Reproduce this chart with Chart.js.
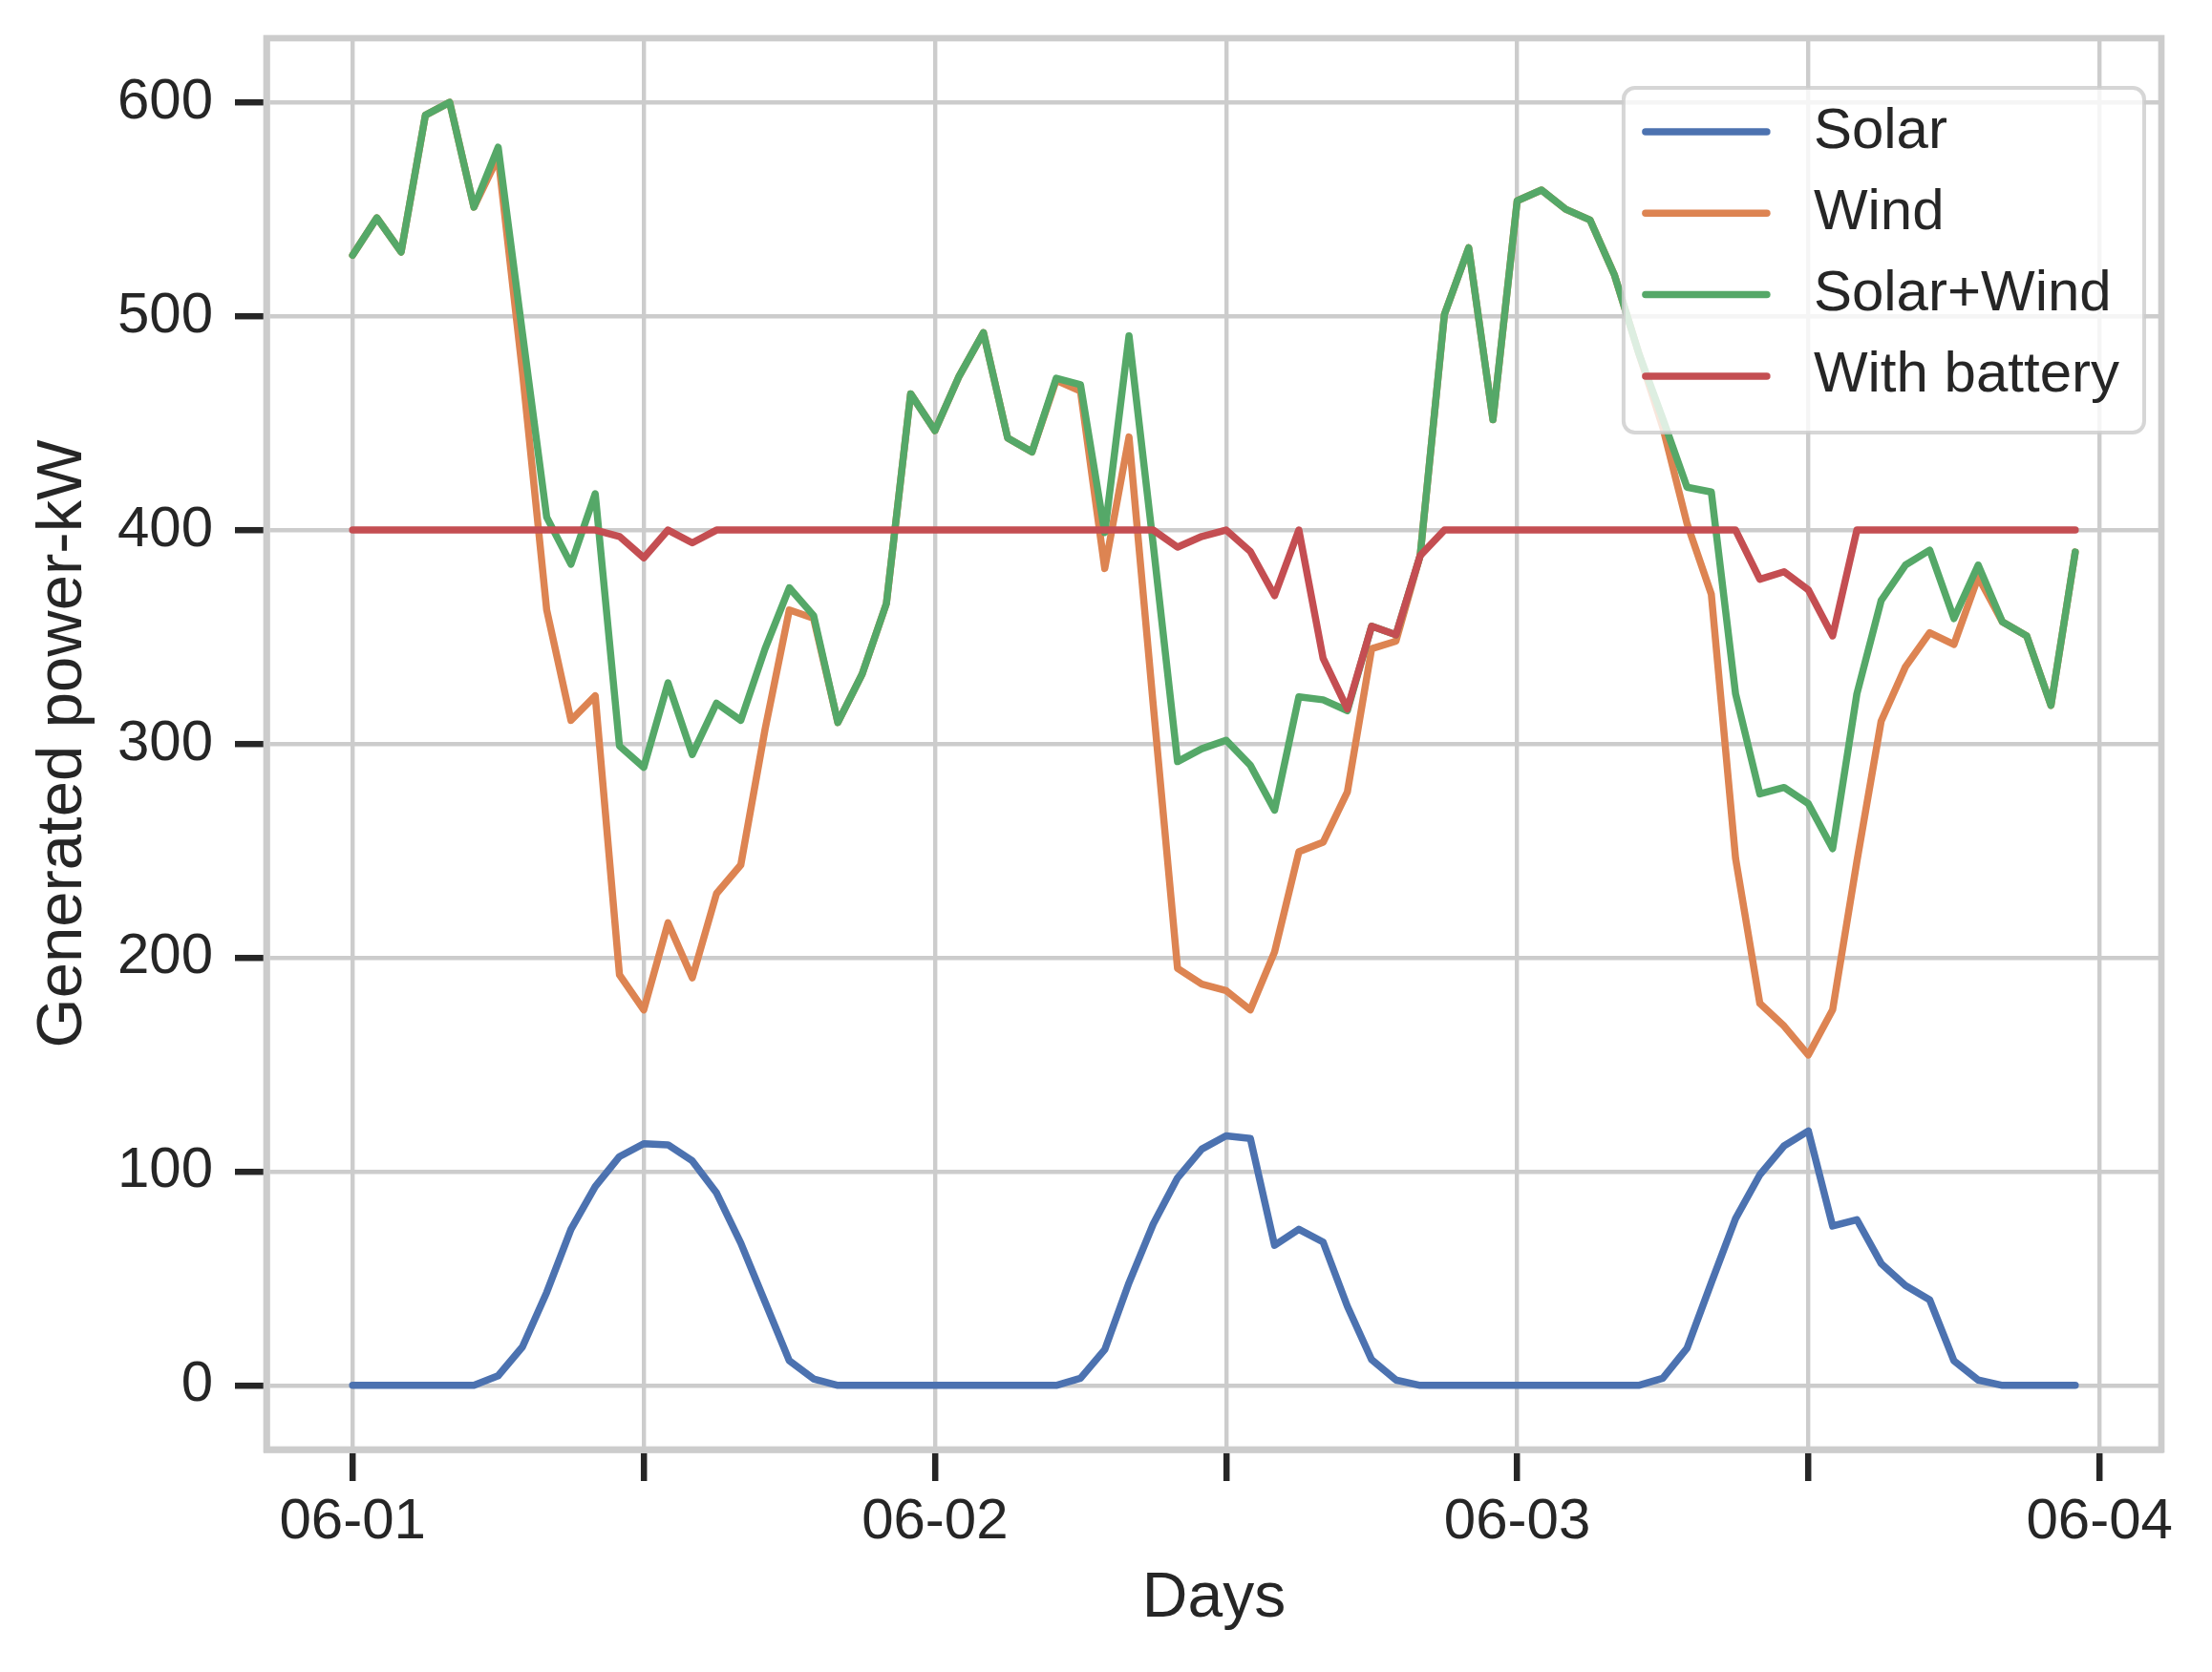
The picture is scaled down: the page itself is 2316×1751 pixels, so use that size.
<!DOCTYPE html>
<html>
<head>
<meta charset="utf-8">
<script src="https://cdn.jsdelivr.net/npm/chart.js@4.4.1/dist/chart.umd.min.js"></script>
<style>
  html, body { margin: 0; padding: 0; background: #fff; }
  canvas { display: block; }
</style>
</head>
<body>
<canvas id="chart" width="2316" height="1751"></canvas>
<script>
// hourly samples, 06-01 00:00 .. 06-03 23:00 (x = hours since 06-01)
const hours = Array.from({ length: 72 }, (_, i) => i);
const dayLabels = ["06-01", "06-02", "06-03", "06-04"];
const xTicks = [0, 12, 24, 36, 48, 60, 72];
const yTicks = [0, 100, 200, 300, 400, 500, 600];
const seriesNames = ["Solar", "Wind", "Solar+Wind", "With battery"];

const solar = [
  0, 0, 0, 0, 0, 0, 4.5, 18, 43.5, 73, 93, 107, 113, 112.5, 105, 90, 66.5, 39, 11.5, 3, 0, 0, 0, 0,
  0, 0, 0, 0, 0, 0, 3.3, 16.7, 48, 75.5, 97, 110.5, 116.7, 115.5, 65.5, 73, 67, 37, 12, 2.5, 0, 0, 0, 0,
  0, 0, 0, 0, 0, 0, 3.3, 17.4, 48, 78, 98.5, 112, 119, 74.5, 77.5, 57, 46.7, 40, 11.5, 2.5, 0, 0, 0, 0
];
const wind = [
  528.5, 546, 530, 594, 600, 551, 574.5, 474, 362.6, 311, 322.5, 192, 175.6, 216.3, 190.6, 230, 243.4, 306.8, 362.6, 358.7, 310, 332.6, 365.6, 463.7,
  446.5, 472, 492.3, 443, 436.5, 470, 465, 382, 443.5, 318, 195, 187.6, 184.6, 175.6, 202.7, 249.5, 254, 277.5, 344.5, 348, 388, 500.8, 532, 451.6,
  554, 559, 550, 545, 519.5, 483, 448, 403, 370, 246.5, 178.6, 168, 154.5, 175.6, 245, 310.6, 336, 352, 346.5, 378, 357, 350.5, 318, 389.7
];
const solarWind = [
  528.5, 546, 530, 594, 600, 551, 579, 492, 406, 384, 417, 299, 289, 328.5, 295, 319, 311, 344.5, 373, 360, 310, 332.6, 365.6, 463.7,
  446.5, 472, 492.3, 443, 436.5, 471, 468, 398.8, 490.8, 393, 291.7, 297.7, 301.7, 290, 269, 322, 320.6, 315.5, 355, 351, 388, 500.8, 532, 451.6,
  554, 559, 550, 545, 519.5, 483, 452, 420, 417.8, 323.4, 276.6, 279.6, 272, 251, 323.4, 367, 383.6, 390.6, 358.6, 383.6, 357, 350.5, 318, 389.7
];
const battery = [
  400, 400, 400, 400, 400, 400, 400, 400, 400, 400, 400, 397, 387, 400, 394, 400, 400, 400, 400, 400, 400, 400, 400, 400,
  400, 400, 400, 400, 400, 400, 400, 400, 400, 400, 392, 397, 400, 390, 369.3, 400, 340, 316.4, 355, 351, 388, 400, 400, 400,
  400, 400, 400, 400, 400, 400, 400, 400, 400, 400, 377, 380.5, 372, 350.5, 400, 400, 400, 400, 400, 400, 400, 400, 400, 400
];

const colors = ["#4C72B0", "#DD8452", "#55A868", "#C44E52"];
const textColor = "#262626";
const gridColor = "#cccccc";
const fontFamily = "'Liberation Sans', Arial, sans-serif";

const toPoints = vals => vals.map((v, i) => ({ x: hours[i], y: v }));

// top/right spines plus the framed legend inside the plot
const framePlugin = {
  id: "frame",
  afterDatasetsDraw(chart) {
    const { ctx, chartArea: a } = chart;
    ctx.save();
    ctx.strokeStyle = gridColor;
    ctx.lineWidth = 6.7;
    ctx.strokeRect(a.left, a.top, a.right - a.left, a.bottom - a.top);

    // legend
    ctx.font = "60px " + fontFamily;
    const sets = chart.data.datasets;
    const textW = Math.max(...sets.map(d => ctx.measureText(d.label).width));
    const padL = 23, sample = 127, gap = 49, padR = 26;
    const w = padL + sample + gap + textW + padR;
    const h = 361;
    const right = a.right - 18, top = a.top + 52;
    const left = right - w;
    ctx.beginPath();
    ctx.roundRect(left, top, w, h, 12);
    ctx.fillStyle = "rgba(255,255,255,0.8)";
    ctx.fill();
    ctx.strokeStyle = "rgba(204,204,204,0.8)";
    ctx.lineWidth = 4;
    ctx.stroke();
    ctx.lineCap = "round";
    ctx.textBaseline = "middle";
    ctx.textAlign = "left";
    sets.forEach((d, i) => {
      const y = top + 46 + i * 85.3;
      ctx.strokeStyle = d.borderColor;
      ctx.lineWidth = 7.5;
      ctx.beginPath();
      ctx.moveTo(left + padL, y);
      ctx.lineTo(left + padL + sample, y);
      ctx.stroke();
      ctx.fillStyle = textColor;
      ctx.fillText(d.label, left + padL + sample + gap, y);
    });
    ctx.restore();
  }
};

const seriesData = [solar, wind, solarWind, battery];

// keep the plot box fixed: no extra padding from tick labels
const noPad = s => { s.paddingTop = 0; s.paddingBottom = 0; s.paddingLeft = 0; s.paddingRight = 0; };

new Chart(document.getElementById("chart"), {
  type: "line",
  data: {
    datasets: seriesData.map((vals, i) => ({
      label: seriesNames[i],
      data: toPoints(vals),
      borderColor: colors[i],
      backgroundColor: colors[i],
      borderWidth: 7.5,
      pointRadius: 0,
      tension: 0,
      order: seriesData.length - i,
      borderJoinStyle: "round",
      borderCapStyle: "round"
    }))
  },
  options: {
    responsive: false,
    devicePixelRatio: 1,
    animation: false,
    layout: { padding: { left: 0, top: 40, right: 53, bottom: 0 } },
    plugins: { legend: { display: false }, tooltip: { enabled: false } },
    scales: {
      x: {
        type: "linear",
        min: -3.55,
        max: 74.55,
        afterBuildTicks: s => { s.ticks = xTicks.map(v => ({ value: v })); },
        afterFit: s => { s.height = 233; noPad(s); },
        grid: { color: gridColor, lineWidth: 4.4, drawTicks: true, tickLength: 33, tickColor: textColor, tickWidth: 6.5 },
        border: { display: true, color: gridColor, width: 6.7 },
        ticks: {
          autoSkip: false,
          maxRotation: 0,
          padding: 7,
          color: textColor,
          font: { family: fontFamily, size: 60 },
          callback: v => (v % 24 === 0 ? dayLabels[v / 24] : "")
        },
        title: { display: true, text: "Days", color: textColor, font: { family: fontFamily, size: 66 }, padding: { top: 0, bottom: 37 } }
      },
      y: {
        type: "linear",
        min: -30,
        max: 630,
        afterBuildTicks: s => { s.ticks = yTicks.map(v => ({ value: v })); },
        afterFit: s => { s.width = 279; noPad(s); },
        grid: { color: gridColor, lineWidth: 4.4, drawTicks: true, tickLength: 33, tickColor: textColor, tickWidth: 6.5 },
        border: { display: true, color: gridColor, width: 6.7 },
        ticks: { padding: 23, color: textColor, font: { family: fontFamily, size: 60 } },
        title: { display: true, text: "Generated power-kW", color: textColor, font: { family: fontFamily, size: 67 }, padding: { top: 26, bottom: 0 } }
      }
    }
  },
  plugins: [framePlugin]
});
</script>
</body>
</html>
